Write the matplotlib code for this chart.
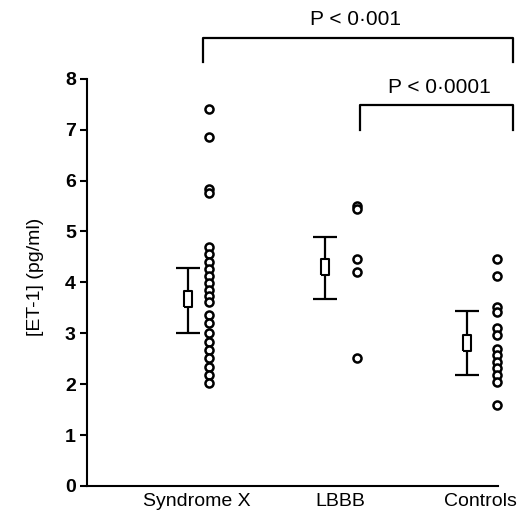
import matplotlib
matplotlib.use("Agg")
import matplotlib.pyplot as plt

# values
groups = ["Syndrome X", "LBBB", "Controls"]
syndrome_x = [7.41, 6.86, 5.83, 5.75,
              4.70, 4.55, 4.40, 4.26, 4.13, 3.99, 3.86, 3.74, 3.62,
              3.36, 3.20, 3.01, 2.83, 2.67, 2.51, 2.34, 2.18, 2.02]
lbbb = [5.50, 5.44, 4.46, 4.21, 2.51]
controls = [4.46, 4.13, 3.52, 3.42, 3.10, 2.97,
            2.70, 2.57, 2.44, 2.31, 2.18, 2.05, 1.59]
means = [3.67, 4.30, 2.80]
upper = [4.28, 4.90, 3.44]
lower = [3.00, 3.67, 2.18]

# significance brackets: bar height, drop to, label
bracket_top = [8.80, 7.49]
bracket_drop = [8.33, 7.00]
bracket_labels = ["P < 0\u00b7001", "P < 0\u00b70001"]

plt.rcParams["font.family"] = ["Liberation Sans", "DejaVu Sans"]

bar_off = [-0.074, -0.11, -0.106]
dot_off = [0.074, 0.115, 0.106]
box = [(-0.25, -0.5), (0.25, -0.5), (0.25, 0.5), (-0.25, 0.5), (-0.25, -0.5)]

fig = plt.figure(figsize=(5.21, 5.12), dpi=100)
ax = fig.add_axes([87 / 521, 26 / 512, 434 / 521, 486 / 512])

for i, vals in enumerate([syndrome_x, lbbb, controls]):
    pos = i + 1
    ax.plot([pos + dot_off[i]] * len(vals), vals, "o", ms=5.8, mfc="white",
            mec="black", mew=1.8, zorder=3)
    ax.errorbar(pos + bar_off[i], means[i],
                yerr=[[means[i] - lower[i]], [upper[i] - means[i]]],
                fmt="none", ecolor="black", elinewidth=1.6, capsize=8.6,
                capthick=1.6, zorder=2)
    ax.plot(pos + bar_off[i], means[i], marker=box, ms=11, mfc="white",
            mec="black", mew=1.5, zorder=4)

# bracket ends (layout positions in axis units)
bracket_left = [1.032, 2.14]
bracket_right = 3.22
text_x = [2.104, 2.70]
text_y = [9.16, 7.82]
for k in range(2):
    xl = bracket_left[k]
    ax.plot([xl, xl, bracket_right, bracket_right],
            [bracket_drop[k], bracket_top[k], bracket_top[k], bracket_drop[k]],
            color="black", lw=1.6, clip_on=False)
    ax.text(text_x[k], text_y[k], bracket_labels[k], ha="center",
            va="center", fontsize=15)

ax.set_xlim(0.213, 3.275)
ax.set_ylim(0, 9.548)
ax.spines["top"].set_visible(False)
ax.spines["right"].set_visible(False)
ax.spines["left"].set_bounds(0, 8)
ax.spines["bottom"].set_bounds(0.213, 3.113)
ax.spines["left"].set_linewidth(1.5)
ax.spines["bottom"].set_linewidth(1.5)

ax.set_yticks(range(0, 9))
ax.set_yticklabels([str(v) for v in range(0, 9)], fontsize=14,
                   fontweight="bold")
ax.tick_params(axis="y", length=5, width=1.5, pad=3)
ax.set_xticks([0.985, 2.0, 2.99])
ax.set_xticklabels(groups, fontsize=14)
ax.tick_params(axis="x", length=0, pad=5)
ax.set_ylabel("[ET-1] (pg/ml)", fontsize=14)
ax.yaxis.set_label_coords(-0.098, 0.43)

fig.savefig("out.png", dpi=100)
